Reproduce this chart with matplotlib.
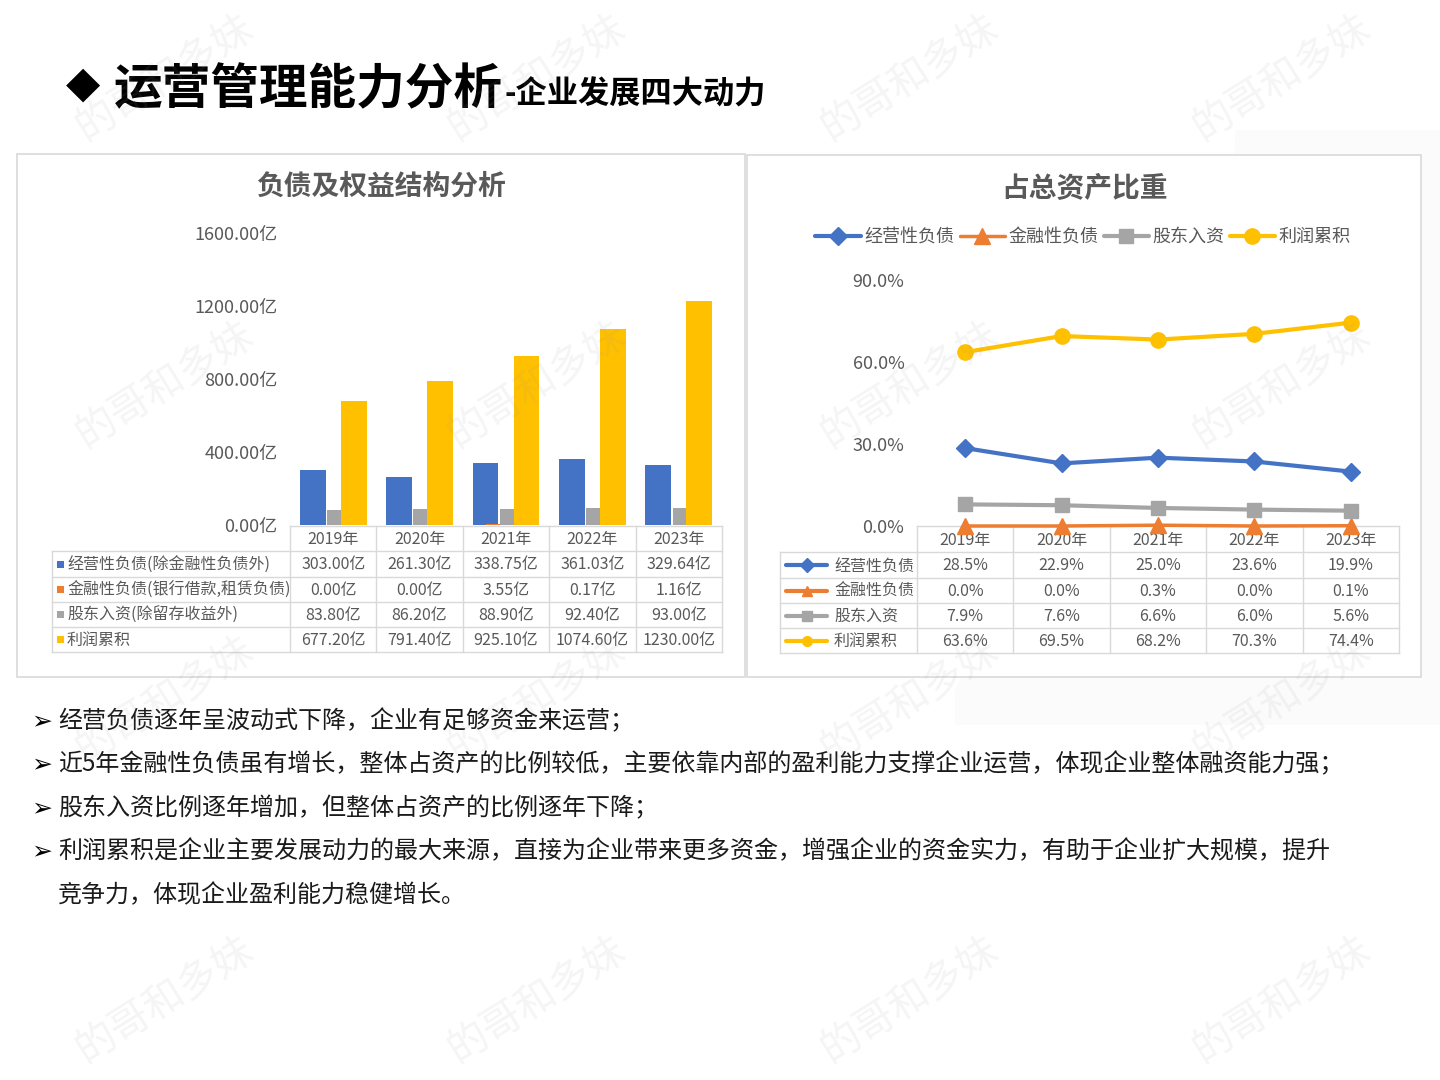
import matplotlib
matplotlib.use('Agg')
import matplotlib.pyplot as plt
from matplotlib.patches import Rectangle, Polygon

plt.rcParams['font.family'] = ['Noto Sans CJK SC', 'DejaVu Sans']

# ---------------- data ----------------
years = ['2019年', '2020年', '2021年', '2022年', '2023年']
amt_labels = ['经营性负债(除金融性负债外)', '金融性负债(银行借款,租赁负债)',
              '股东入资(除留存收益外)', '利润累积']
op_liab = [303.00, 261.30, 338.75, 361.03, 329.64]
fin_liab = [0.00, 0.00, 3.55, 0.17, 1.16]
equity = [83.80, 86.20, 88.90, 92.40, 93.00]
retained = [677.20, 791.40, 925.10, 1074.60, 1230.00]
amt_ticks = [0, 400, 800, 1200, 1600]

pct_labels = ['经营性负债', '金融性负债', '股东入资', '利润累积']
op_pct = [28.5, 22.9, 25.0, 23.6, 19.9]
fin_pct = [0.0, 0.0, 0.3, 0.0, 0.1]
eq_pct = [7.9, 7.6, 6.6, 6.0, 5.6]
ret_pct = [63.6, 69.5, 68.2, 70.3, 74.4]
pct_ticks = [0, 30, 60, 90]

title_main = '运营管理能力分析'
title_sub = '-企业发展四大动力'
left_title = '负债及权益结构分析'
right_title = '占总资产比重'
bullets = [
    ['经营负债逐年呈波动式下降，企业有足够资金来运营；'],
    ['近5年金融性负债虽有增长，整体占资产的比例较低，主要依靠内部的盈利能力支撑企业运营，体现企业整体融资能力强；'],
    ['股东入资比例逐年增加，但整体占资产的比例逐年下降；'],
    ['利润累积是企业主要发展动力的最大来源，直接为企业带来更多资金，增强企业的资金实力，有助于企业扩大规模，提升',
     '竞争力，体现企业盈利能力稳健增长。'],
]
watermark = '的哥和多妹'

colors = ['#4472C4', '#ED7D31', '#A5A5A5', '#FFC000']
markers = ['D', '^', 's', 'o']
msizes = [9, 11, 10, 11]
TXT = '#595959'
GRID = '#d9d9d9'

W, H = 1440, 1080
fig = plt.figure(figsize=(W / 100, H / 100), dpi=100)
fig.patch.set_facecolor('white')


def rect(x0, y0, x1, y1):
    return [x0 / W, 1 - y1 / H, (x1 - x0) / W, (y1 - y0) / H]


bg = fig.add_axes([0, 0, 1, 1])
bg.set_xlim(0, W)
bg.set_ylim(H, 0)
bg.axis('off')

# faint background shape on the right
bg.add_patch(Polygon([(1235, 130), (1440, 130), (1440, 725), (955, 725), (955, 690), (1235, 150)],
                     closed=True, fc='#fbfbfb', ec='none', zorder=0))

# ---------------- title ----------------
renderer = fig.canvas.get_renderer()
bg.text(66, 84, '◆', fontsize=32, family='DejaVu Sans', color='black',
        va='center', ha='left')
t1 = bg.text(114, 104, title_main, fontsize=35, fontweight='heavy', color='black',
             va='baseline', ha='left')
bb = t1.get_window_extent(renderer)
bg.text(bb.x1 + 1, 104, title_sub, fontsize=22.5, fontweight='heavy', color='black',
        va='baseline', ha='left')

# ---------------- panels ----------------
bg.add_patch(Rectangle((17, 154), 728, 523, fc='white', ec=GRID, lw=1.2, zorder=1))
bg.add_patch(Rectangle((747, 155), 674, 522, fc='white', ec=GRID, lw=1.2, zorder=1))
bg.text(381, 187, left_title, fontsize=20, fontweight='bold', color=TXT,
        ha='center', va='center', zorder=3)
bg.text(1085, 188, right_title, fontsize=20, fontweight='bold', color=TXT,
        ha='center', va='center', zorder=3)

# ---------------- bar chart ----------------
xpos = list(range(len(years)))
axb = fig.add_axes(rect(290, 233, 722, 525))
axb.set_facecolor('none')
bw, step = 0.30, 0.158
for i, (vals, c) in enumerate(zip([op_liab, fin_liab, equity, retained], colors)):
    axb.bar([k + (i - 1.5) * step for k in xpos], vals, width=bw, color=c,
            zorder=2 + i, lw=0)
axb.set_xlim(-0.5, len(years) - 0.5)
axb.set_ylim(amt_ticks[0], amt_ticks[-1])
axb.set_yticks(amt_ticks)
axb.set_yticklabels([f'{v:.2f}亿' for v in amt_ticks])
axb.tick_params(axis='y', length=0, pad=9, labelsize=13, labelcolor=TXT)
axb.set_xticks([])
for sp in axb.spines.values():
    sp.set_visible(False)

# left data table
lx0, lxc, lx1 = 52, 290, 722
lys = [526, 551, 577, 602, 627, 652]
lcols = [lxc + k * (lx1 - lxc) / 5 for k in range(6)]
bg.plot([lxc, lx1], [lys[0], lys[0]], color=GRID, lw=1, zorder=3)
for y in lys[1:]:
    bg.plot([lx0, lx1], [y, y], color=GRID, lw=1, zorder=3)
for x in lcols:
    bg.plot([x, x], [lys[0], lys[-1]], color=GRID, lw=1, zorder=3)
bg.plot([lx0, lx0], [lys[1], lys[-1]], color=GRID, lw=1, zorder=3)
for k, yr in enumerate(years):
    bg.text((lcols[k] + lcols[k + 1]) / 2, (lys[0] + lys[1]) / 2 + 1, yr,
            fontsize=11.5, color=TXT, ha='center', va='center', zorder=3)
for r, (lab, vals, c) in enumerate(zip(amt_labels, [op_liab, fin_liab, equity, retained], colors)):
    yc = (lys[r + 1] + lys[r + 2]) / 2
    bg.add_patch(Rectangle((57, yc - 3.5), 7, 7, color=c, lw=0, zorder=3))
    bg.text(67, yc + 1, lab, fontsize=11.5, color=TXT, ha='left', va='center', zorder=3)
    for k, v in enumerate(vals):
        bg.text((lcols[k] + lcols[k + 1]) / 2, yc + 1, f'{v:.2f}亿',
                fontsize=11.5, color=TXT, ha='center', va='center', zorder=3)

# ---------------- line chart ----------------
axl = fig.add_axes(rect(917, 280, 1399, 526))
axl.set_facecolor('none')
handles = []
for vals, c, m, ms, lab in zip([op_pct, fin_pct, eq_pct, ret_pct], colors, markers,
                               msizes, pct_labels):
    lw = 2.5 if c == '#ED7D31' else 3
    h, = axl.plot(xpos, vals, color=c, lw=lw, marker=m, ms=ms, mec=c, mfc=c,
                  label=lab, clip_on=False, solid_joinstyle='round',
                  solid_capstyle='round', zorder=3)
    handles.append(h)
axl.set_xlim(-0.5, len(years) - 0.5)
axl.set_ylim(pct_ticks[0], pct_ticks[-1])
axl.set_yticks(pct_ticks)
axl.set_yticklabels([f'{v:.1f}%' for v in pct_ticks])
axl.tick_params(axis='y', length=0, pad=9, labelsize=13, labelcolor=TXT)
axl.set_xticks([])
for sp in axl.spines.values():
    sp.set_visible(False)

fig.legend(handles=handles, loc='center', bbox_to_anchor=(1083 / W, 1 - 237 / H),
           ncol=4, frameon=False, fontsize=13, handlelength=2.5, handletextpad=0.2,
           columnspacing=0.3, labelcolor=TXT)

# right data table
rx0, rxc, rx1 = 780, 917, 1399
rys = [526, 552, 578, 603, 628, 653]
rcols = [rxc + k * (rx1 - rxc) / 5 for k in range(6)]
bg.plot([rxc, rx1], [rys[0], rys[0]], color=GRID, lw=1, zorder=3)
for y in rys[1:]:
    bg.plot([rx0, rx1], [y, y], color=GRID, lw=1, zorder=3)
for x in rcols:
    bg.plot([x, x], [rys[0], rys[-1]], color=GRID, lw=1, zorder=3)
bg.plot([rx0, rx0], [rys[1], rys[-1]], color=GRID, lw=1, zorder=3)
for k, yr in enumerate(years):
    bg.text((rcols[k] + rcols[k + 1]) / 2, (rys[0] + rys[1]) / 2 + 1, yr,
            fontsize=11.5, color=TXT, ha='center', va='center', zorder=3)
for r, (lab, vals, c, m) in enumerate(zip(pct_labels, [op_pct, fin_pct, eq_pct, ret_pct],
                                          colors, markers)):
    yc = (rys[r + 1] + rys[r + 2]) / 2
    bg.plot([786, 827], [yc, yc], color=c, lw=3, solid_capstyle='round', zorder=3)
    bg.plot([806.5], [yc], marker=m, ms=7, color=c, zorder=3)
    bg.text(834, yc + 1, lab, fontsize=11.5, color=TXT, ha='left', va='center', zorder=3)
    for k, v in enumerate(vals):
        bg.text((rcols[k] + rcols[k + 1]) / 2, yc + 1, f'{v:.1f}%',
                fontsize=11.5, color=TXT, ha='center', va='center', zorder=3)

# ---------------- bullets ----------------
line_y = 721
for item in bullets:
    bg.text(31, line_y, '➢', fontsize=18, family='DejaVu Sans', color='black',
            ha='left', va='center', zorder=3)
    for ln in item:
        bg.text(58, line_y, ln, fontsize=17.3, color='#1a1a1a', ha='left',
                va='center', zorder=3)
        line_y += 43.5

# ---------------- watermark ----------------
for wy in [78, 385, 700, 1000]:
    for wx in [165, 537, 910, 1282]:
        fig.text(wx / W, 1 - wy / H, watermark, fontsize=29, color='#9a9a9a',
                 alpha=0.10, rotation=32, ha='center', va='center', zorder=10)

fig.savefig('out.png', dpi=100, facecolor='white')
